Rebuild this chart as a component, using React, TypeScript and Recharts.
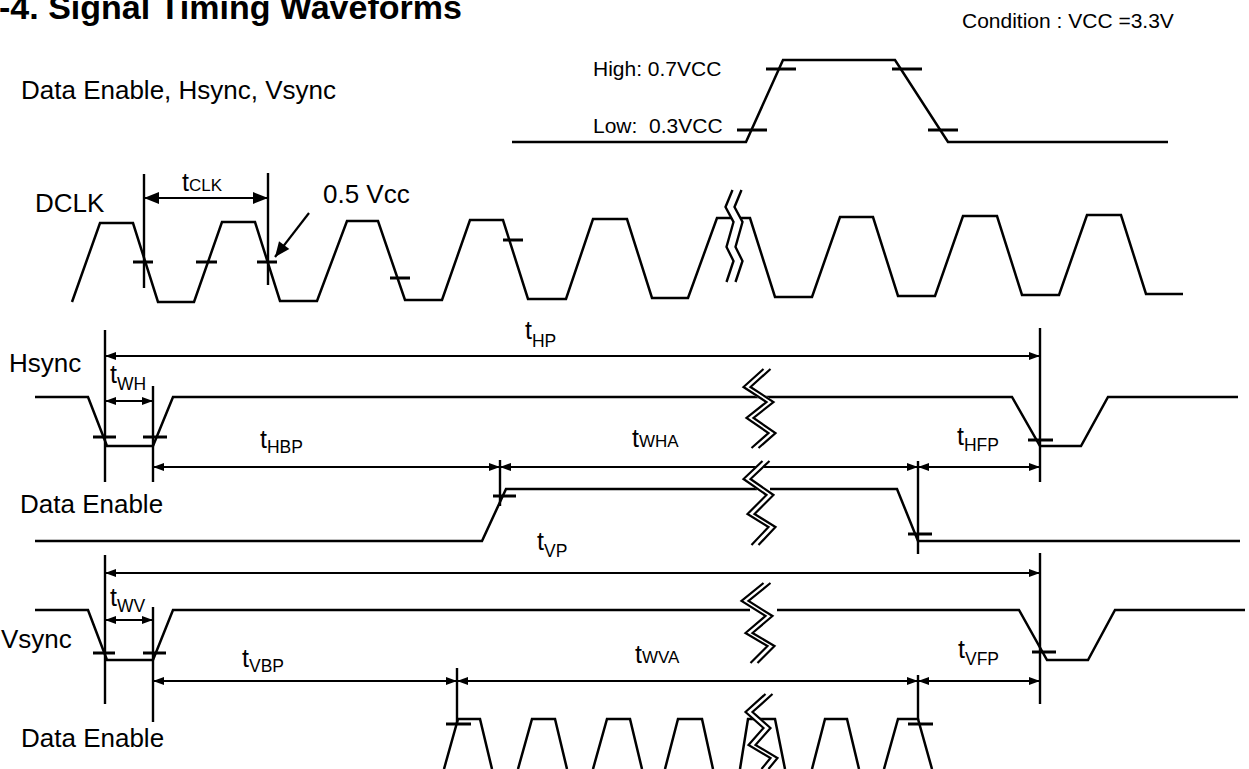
import React from 'react';
import { ComposedChart, Line, Scatter, XAxis, YAxis } from 'recharts';

// diagram units: x = time axis (px of the sheet), y = level axis (px from top)
const W = 1249;
const H = 769;

// reference edge (top right)
const levelWave = [[512, 142], [746, 142], [783, 60], [895, 60], [948, 142], [1168, 142]];

const dclkWave = [
  [72, 302], [100, 223], [133, 223], [158, 302], [194, 302], [222, 222], [255, 222], [280, 301],
  [317, 301], [347, 221], [378, 221], [405, 300], [442, 300], [470, 220], [503, 220], [528, 299],
  [566, 299], [593, 219], [627, 219], [652, 298], [688, 298], [717, 218], [750, 218], [775, 297],
  [812, 297], [840, 217], [873, 217], [898, 296], [935, 296], [963, 216], [997, 216], [1022, 295],
  [1059, 295], [1087, 215], [1121, 215], [1146, 294], [1183, 294],
];

const hsyncWave = [
  [35, 397], [88, 397], [107, 446], [153, 446], [173, 397], [1012, 397], [1040, 446], [1081, 446],
  [1108, 397], [1238, 397],
];

const deLineA = [[35, 541], [482, 541], [506, 489], [757, 489]];
const deLineB = [[770, 489], [897, 489], [918, 541], [1240, 541]];

const vsyncA = [[35, 610], [88, 610], [107, 660], [153, 660], [173, 610], [750, 610]];
const vsyncB = [[777, 610], [1019, 610], [1047, 660], [1088, 660], [1115, 610], [1245, 610]];

// data enable pulses during vertical active: foot-left, top-left, top-right, foot-right
const dePulses = [
  [444, 458, 480, 492],
  [518, 532, 555, 567],
  [593, 607, 630, 642],
  [665, 678, 702, 713],
  [740, 748, 775, 785],
  [812, 825, 847, 859],
  [884, 898, 918, 932],
];
const pulseTop = 719;
const pulseFoot = 769;

// break symbols (centre line of the double zigzag)
const breakDclk = [[737, 190], [730, 207], [738, 222], [731, 247], [738, 261], [731, 282]];
const breakMarks = [
  [[767, 369], [747, 387], [770, 402], [750, 418], [772, 433], [755, 448]],
  [[766, 461], [747, 479], [770, 495], [751, 514], [772, 527], [755, 545]],
  [[767, 583], [745, 601], [769, 616], [749, 633], [771, 646], [754, 663]],
  [[769, 694], [749, 712], [767, 728], [752, 745], [774, 758], [765, 769]],
];

// timing dimensions
const dimensions = [
  { x1: 105, x2: 1040, y: 356 },
  { x1: 105, x2: 153, y: 401 },
  { x1: 153, x2: 500, y: 467 },
  { x1: 500, x2: 918, y: 467 },
  { x1: 918, x2: 1040, y: 467 },
  { x1: 105, x2: 1040, y: 573 },
  { x1: 105, x2: 153, y: 620 },
  { x1: 153, x2: 457, y: 681 },
  { x1: 457, x2: 918, y: 681 },
  { x1: 918, x2: 1040, y: 681 },
];
const clkDimension = { x1: 144, x2: 268, y: 198 };
const vccPointer = [[309, 213], [275, 257]];

// extension lines
const markers = [
  { x: 144, y1: 174, y2: 288 }, { x: 268, y1: 173, y2: 285 },
  { x: 105, y1: 330, y2: 482 }, { x: 153, y1: 386, y2: 482 }, { x: 1040, y1: 328, y2: 482 },
  { x: 500, y1: 460, y2: 506 }, { x: 918, y1: 461, y2: 554 },
  { x: 105, y1: 555, y2: 704 }, { x: 153, y1: 607, y2: 722 }, { x: 1040, y1: 553, y2: 704 },
  { x: 457, y1: 668, y2: 723 }, { x: 918, y1: 675, y2: 720 },
];

// threshold crossing marks
const crossings = [
  { x1: 737, x2: 767, y: 130 }, { x1: 766, x2: 796, y: 69 }, { x1: 892, x2: 922, y: 69 }, { x1: 928, x2: 958, y: 130 },
  { x1: 133, x2: 153, y: 262 }, { x1: 196, x2: 217, y: 262 }, { x1: 257, x2: 277, y: 262 },
  { x1: 390, x2: 410, y: 278 }, { x1: 503, x2: 523, y: 240 },
  { x1: 93, x2: 116, y: 437 }, { x1: 143, x2: 167, y: 437 }, { x1: 1028, x2: 1053, y: 440 },
  { x1: 493, x2: 516, y: 496 }, { x1: 908, x2: 932, y: 534 },
  { x1: 93, x2: 115, y: 653 }, { x1: 143, x2: 166, y: 653 }, { x1: 1032, x2: 1056, y: 652 },
  { x1: 446, x2: 471, y: 724 }, { x1: 908, x2: 933, y: 724 },
];

const titleText = [{ x: -1, y: 19, text: '-4. Signal Timing Waveforms' }];
const signalNames = [
  { x: 21, y: 99, text: 'Data Enable, Hsync, Vsync' },
  { x: 35, y: 212, text: 'DCLK' },
  { x: 323, y: 203, text: '0.5 Vcc' },
  { x: 9, y: 372, text: 'Hsync' },
  { x: 20, y: 513, text: 'Data Enable' },
  { x: 1, y: 648, text: 'Vsync' },
  { x: 21, y: 747, text: 'Data Enable' },
];
const levelNotes = [
  { x: 593, y: 76, text: 'High: 0.7VCC' },
  { x: 593, y: 133, text: 'Low:\u00a0 0.3VCC' },
  { x: 962, y: 28, text: 'Condition : VCC =3.3V' },
];
const timingNames = [
  { x: 182, y: 191, sub: 'CLK', drop: 0 },
  { x: 525, y: 339, sub: 'HP', drop: 8 },
  { x: 110, y: 383, sub: 'WH', drop: 7 },
  { x: 260, y: 448, sub: 'HBP', drop: 5 },
  { x: 632, y: 447, sub: 'WHA', drop: 0 },
  { x: 957, y: 445, sub: 'HFP', drop: 6 },
  { x: 537, y: 550, sub: 'VP', drop: 7 },
  { x: 110, y: 606, sub: 'WV', drop: 6 },
  { x: 242, y: 667, sub: 'VBP', drop: 5 },
  { x: 635, y: 663, sub: 'WVA', drop: 0 },
  { x: 958, y: 658, sub: 'VFP', drop: 7 },
];

const FONT = '"Liberation Sans", Arial, Helvetica, sans-serif';

const toPts = (arr: number[][]) => arr.map(([x, y]) => ({ x, y }));
const shift = (arr: number[][], dx: number) => arr.map(([x, y]) => [x + dx, y]);

const heads = (list: { x1: number; x2: number; y: number }[]) =>
  list.flatMap((d) => [
    { x: d.x1, y: d.y, ux: -1, uy: 0 },
    { x: d.x2, y: d.y, ux: 1, uy: 0 },
  ]);

const pointerHead = (() => {
  const [[ax, ay], [bx, by]] = vccPointer;
  const len = Math.hypot(bx - ax, by - ay);
  return [{ x: bx, y: by, ux: (bx - ax) / len, uy: (by - ay) / len }];
})();

const makeHead = (size: number, half: number) => (props: any) => {
  const { cx, cy, payload } = props;
  if (cx == null || cy == null) return <g />;
  const ux = payload.ux;
  const uy = payload.uy;
  const bx = cx - ux * size;
  const by = cy - uy * size;
  const px = -uy * half;
  const py = ux * half;
  return <polygon points={`${cx},${cy} ${bx + px},${by + py} ${bx - px},${by - py}`} fill="#000" />;
};

const makeCaption = (size: number, weight: string | number) => (props: any) => {
  const { cx, cy, payload } = props;
  if (cx == null || cy == null) return <g />;
  return (
    <text x={cx} y={cy} fontSize={size} fontWeight={weight} fontFamily={FONT} fill="#000">
      {payload.text}
    </text>
  );
};

const TimingName = (props: any) => {
  const { cx, cy, payload } = props;
  if (cx == null || cy == null) return <g />;
  const flat = payload.drop === 0;
  return (
    <text x={cx} y={cy} fontFamily={FONT} fill="#000">
      <tspan fontSize={25}>t</tspan>
      <tspan fontSize={flat ? 17 : 17.5} dy={payload.drop}>
        {payload.sub}
      </tspan>
    </text>
  );
};

const trace = (key: string, data: { x: number; y: number }[], width = 2.5, color = '#000') => (
  <Line
    key={key}
    data={data}
    dataKey="y"
    type="linear"
    stroke={color}
    strokeWidth={width}
    dot={false}
    activeDot={false}
    isAnimationActive={false}
    legendType="none"
  />
);

export default function App() {
  const series: React.ReactNode[] = [];

  series.push(trace('level', toPts(levelWave)));
  series.push(trace('dclk', toPts(dclkWave)));
  series.push(trace('hsync', toPts(hsyncWave)));
  series.push(trace('deA', toPts(deLineA)));
  series.push(trace('deB', toPts(deLineB)));
  series.push(trace('vsA', toPts(vsyncA)));
  series.push(trace('vsB', toPts(vsyncB)));
  dePulses.forEach((p, i) => {
    series.push(
      trace(`pulse${i}`, [
        { x: p[0], y: pulseFoot },
        { x: p[1], y: pulseTop },
        { x: p[2], y: pulseTop },
        { x: p[3], y: pulseFoot },
      ])
    );
  });

  markers.forEach((m, i) => {
    series.push(trace(`mk${i}`, [{ x: m.x, y: m.y1 }, { x: m.x, y: m.y2 }], 2.4));
  });
  [...dimensions, clkDimension].forEach((d, i) => {
    series.push(trace(`dim${i}`, [{ x: d.x1, y: d.y }, { x: d.x2, y: d.y }], 2));
  });
  series.push(trace('pointer', toPts(vccPointer), 2.2));
  crossings.forEach((c, i) => {
    series.push(trace(`cr${i}`, [{ x: c.x1, y: c.y }, { x: c.x2, y: c.y }], 3));
  });

  // break symbols: white gap then two parallel strokes
  series.push(trace('brkDw', toPts(breakDclk), 7, '#fff'));
  series.push(trace('brkD1', toPts(shift(breakDclk, -4.5)), 2.4));
  series.push(trace('brkD2', toPts(shift(breakDclk, 4.5)), 2.4));
  breakMarks.forEach((b, i) => {
    series.push(trace(`brkw${i}`, toPts(b), 6, '#fff'));
    series.push(trace(`brk1${i}`, toPts(shift(b, -3.5)), 2.2));
    series.push(trace(`brk2${i}`, toPts(shift(b, 3.5)), 2.2));
  });

  return (
    <div style={{ position: 'absolute', left: 0, top: 0, width: W, height: H, background: '#fff' }}>
      <ComposedChart width={W} height={H} margin={{ top: 0, right: 0, bottom: 0, left: 0 }}>
        <XAxis type="number" dataKey="x" domain={[0, W]} hide allowDataOverflow />
        <YAxis type="number" dataKey="y" domain={[0, H]} reversed hide allowDataOverflow />
        {series}
        <Scatter data={heads(dimensions)} shape={makeHead(11, 4)} isAnimationActive={false} legendType="none" />
        <Scatter data={heads([clkDimension])} shape={makeHead(15, 6)} isAnimationActive={false} legendType="none" />
        <Scatter data={pointerHead} shape={makeHead(15, 6.5)} isAnimationActive={false} legendType="none" />
        <Scatter data={titleText} shape={makeCaption(34, 'bold')} isAnimationActive={false} legendType="none" />
        <Scatter data={signalNames} shape={makeCaption(26, 'normal')} isAnimationActive={false} legendType="none" />
        <Scatter data={levelNotes} shape={makeCaption(21, 'normal')} isAnimationActive={false} legendType="none" />
        <Scatter data={timingNames} shape={TimingName} isAnimationActive={false} legendType="none" />
      </ComposedChart>
    </div>
  );
}
